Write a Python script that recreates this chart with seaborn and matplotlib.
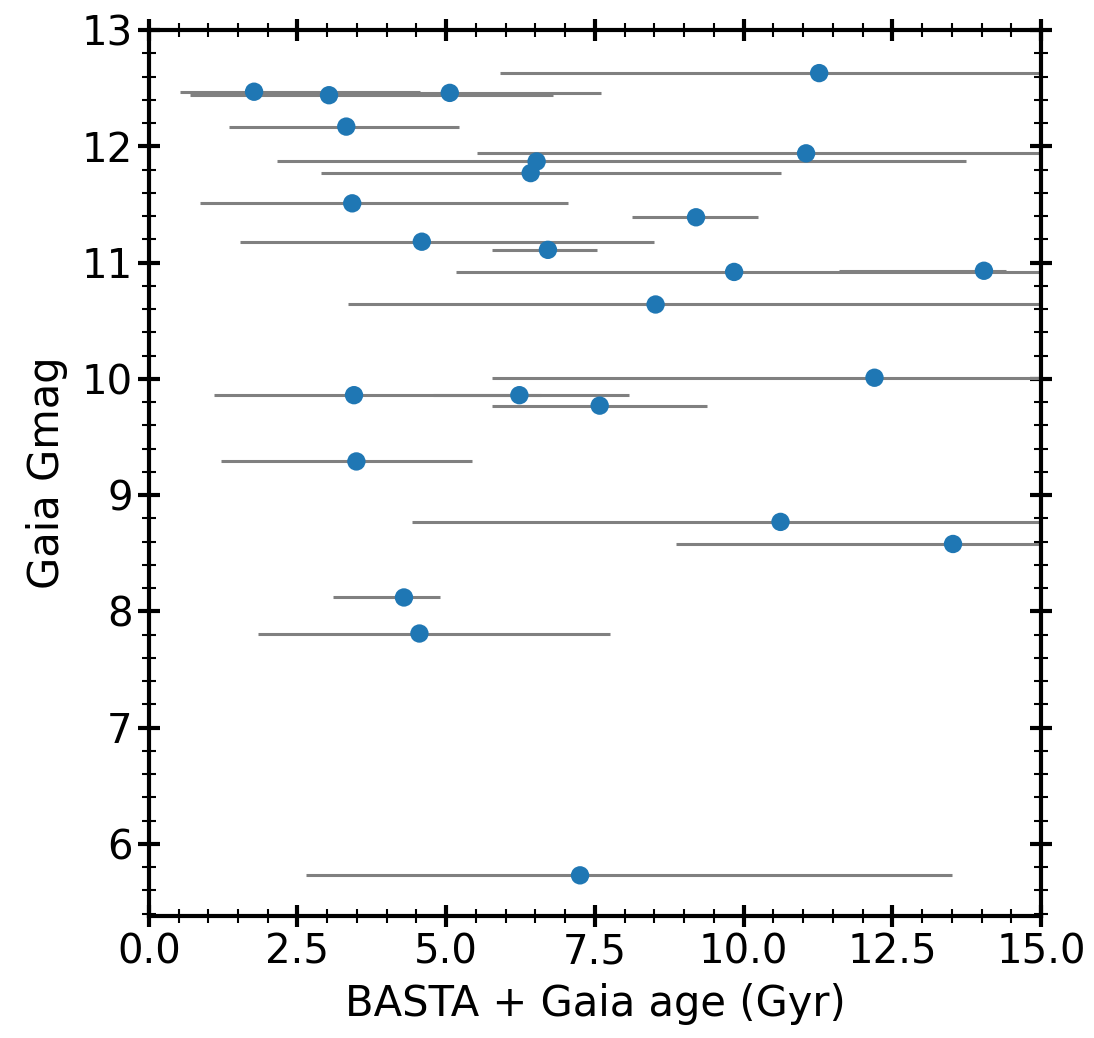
import numpy as np
import pandas as pd
import matplotlib
matplotlib.use('Agg')
import matplotlib.pyplot as plt
from matplotlib.ticker import MultipleLocator
import seaborn as sns

# age (Gyr), lower / upper bounds of the age interval, and Gaia G magnitude
age = [1.77, 3.03, 5.06, 3.32, 11.27, 11.05, 6.52, 6.42, 3.42, 9.20, 4.59, 6.71,
       9.84, 14.04, 8.52, 12.20, 3.45, 6.23, 7.58, 3.49, 10.62, 13.52, 4.29, 4.55, 7.25]
age_lo = [0.52, 0.69, 2.40, 1.35, 5.90, 5.51, 2.15, 2.89, 0.86, 8.12, 1.54, 5.77,
          5.16, 11.61, 3.35, 5.77, 1.09, 4.78, 5.77, 1.22, 4.42, 8.87, 3.09, 1.83, 2.64]
age_hi = [4.56, 6.79, 7.60, 5.21, 16.6, 16.6, 13.73, 10.63, 7.05, 10.25, 8.50, 7.53,
          15.5, 14.41, 15.8, 18.6, 6.60, 8.08, 9.38, 5.44, 16.8, 18.2, 4.89, 7.76, 13.50]
gmag = [12.47, 12.44, 12.46, 12.17, 12.63, 11.94, 11.87, 11.77, 11.51, 11.39, 11.18, 11.11,
        10.92, 10.93, 10.64, 10.01, 9.86, 9.86, 9.77, 9.29, 8.77, 8.58, 8.12, 7.81, 5.73]

df = pd.DataFrame({'age': age, 'lo': age_lo, 'hi': age_hi, 'gmag': gmag})
df['err_lo'] = df['age'] - df['lo']
df['err_hi'] = df['hi'] - df['age']

sns.set_style('ticks')
plt.rcParams['font.family'] = ['DejaVu Sans']
plt.rcParams['text.color'] = 'black'
plt.rcParams['axes.labelcolor'] = 'black'
plt.rcParams['xtick.color'] = 'black'
plt.rcParams['ytick.color'] = 'black'
plt.rcParams['axes.edgecolor'] = 'black'

fig = plt.figure(figsize=(10.94, 10.38), dpi=100)
ax = fig.add_axes([0.136, 0.1175, 0.8156, 0.8535])

ax.errorbar(df['age'], df['gmag'], xerr=[df['err_lo'], df['err_hi']], fmt='none',
            ecolor='grey', elinewidth=2.2, capsize=0, zorder=2)
sns.scatterplot(data=df, x='age', y='gmag', ax=ax, color='#1f77b4', s=175,
                edgecolor='none', zorder=3)

ax.set_xlim(0, 15)
ax.set_ylim(5.38, 13)
ax.xaxis.set_major_locator(MultipleLocator(2.5))
ax.xaxis.set_minor_locator(MultipleLocator(0.5))
ax.yaxis.set_major_locator(MultipleLocator(1))
ax.yaxis.set_minor_locator(MultipleLocator(0.2))

ax.tick_params(which='major', direction='inout', length=16, width=3,
               top=True, right=True, labelsize=29, colors='black')
ax.tick_params(which='minor', direction='inout', length=10, width=1.5,
               top=True, right=True, colors='black')
for s in ax.spines.values():
    s.set_linewidth(3)
    s.set_color('black')
    s.set_visible(True)

ax.set_xlabel('BASTA + Gaia age (Gyr)', fontsize=30, labelpad=8)
ax.set_ylabel('Gaia Gmag', fontsize=30, labelpad=10)

fig.savefig('out.png', dpi=100)
